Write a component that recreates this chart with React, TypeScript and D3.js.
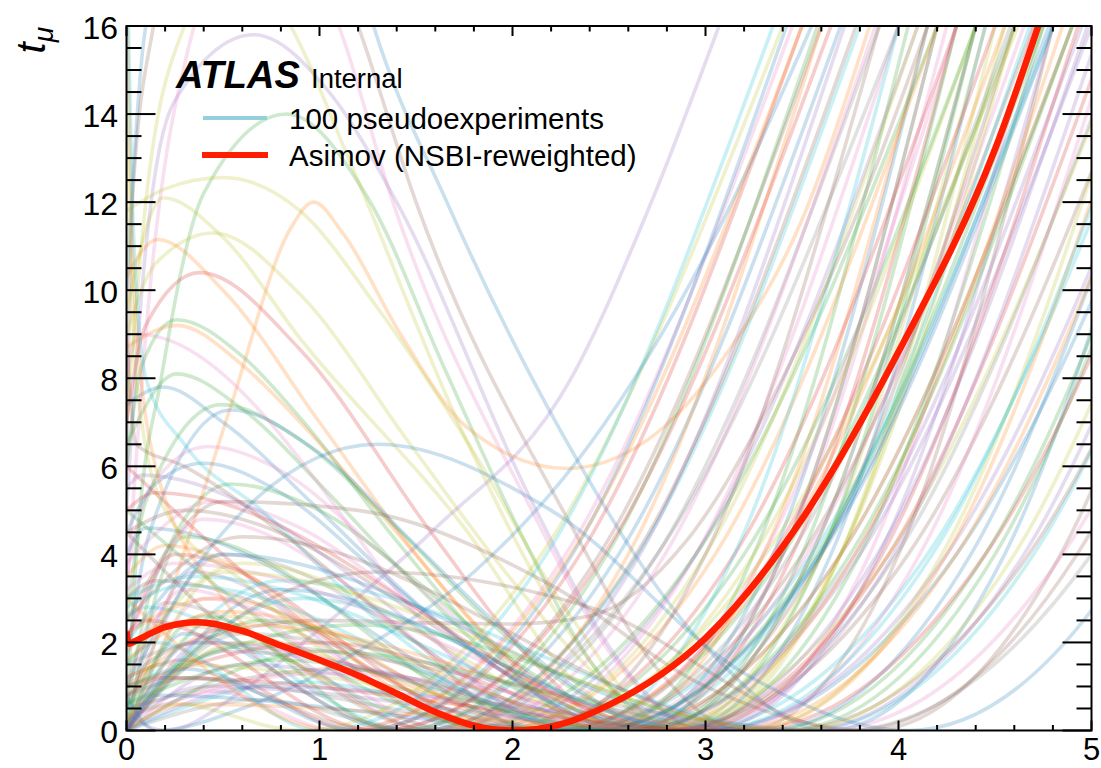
import React from "react";
import * as d3 from "d3";

// ---------- data ----------
const X_DOMAIN = [0, 5];
const Y_DOMAIN = [0, 16];
const X_MAJOR = [0, 1, 2, 3, 4, 5];
const Y_MAJOR = [0, 2, 4, 6, 8, 10, 12, 14, 16];

const TAB10 = ["#1f77b4", "#ff7f0e", "#2ca02c", "#d62728", "#9467bd", "#8c564b", "#e377c2", "#7f7f7f", "#bcbd22", "#17becf"];

// 100 pseudoexperiment curves, knots as flat [x, y, x, y, ...] lists
const PSEUDO: number[][] = [
  [0, 0.3, 0.06, 4.5, 0.18, 8, 0.4, 12.2, 0.83, 14, 1.25, 12.1, 1.65, 8.2, 2.04, 4.5, 2.45, 1.3, 2.85, 0, 3.8, 4, 4.75, 16],
  [0, 5, 0.08, 10, 0.25, 14.3, 0.66, 15.8, 1.05, 14.5, 1.4, 12, 2.1, 5.2, 2.55, 1.6, 3, 0, 3.9, 4, 4.8, 16],
  [0, 3, 0.1, 9, 0.35, 16, 0.7, 19, 1.1, 16, 1.38, 12, 2.1, 5, 2.55, 1.5, 3, 0, 3.85, 4, 4.7, 16],
  [0, 6, 0.03, 12, 0.14, 16, 0.6, 22, 1.2, 16, 1.5, 12, 2.28, 4.85, 2.75, 1.4, 3.2, 0, 4, 4, 4.8, 16],
  [0, 10, 0.1, 16, 0.8, 25, 1.28, 16, 1.66, 12, 2.25, 6.8, 3, 1.9, 3.63, 0, 4.55, 4, 5.47, 16],
  [0, 7, 0.1, 12, 0.3, 16, 0.55, 17.5, 0.85, 16, 1.15, 13, 1.76, 6.6, 2.3, 2.2, 2.8, 0, 3.7, 4, 4.6, 16],
  [0, 0, 0.2, 2.7, 0.55, 7.5, 0.85, 11.4, 0.97, 12, 1.12, 11.3, 1.42, 9, 1.76, 6.9, 2.28, 5.95, 2.7, 6.6, 3.1, 8.5, 3.5, 11.6, 3.85, 16],
  [0, 9.5, 0.19, 12.1, 0.5, 11.2, 0.9, 8.9, 1.76, 4.55, 2.3, 1.2, 2.75, 0, 3.6, 4, 4.45, 16],
  [0, 11.8, 0.2, 12.3, 0.5, 12.56, 0.9, 11.8, 1.3, 9.6, 1.76, 6.6, 2.3, 2.6, 2.85, 0, 3.7, 4, 4.55, 16],
  [0, 9, 0.15, 10.6, 0.45, 11.3, 0.9, 9.9, 1.47, 6.5, 2, 3.4, 2.5, 1, 2.9, 0, 3.7, 4, 4.5, 16],
  [0, 10.3, 0.16, 11.15, 0.5, 10, 1, 7, 1.5, 4, 2, 1.5, 2.45, 0, 3.3, 4, 4.15, 16],
  [0, 7, 0.1, 9.2, 0.38, 10.4, 0.9, 8.65, 1.57, 4.55, 2.1, 1.6, 2.6, 0, 3.45, 4, 4.3, 16],
  [0, 6, 0.08, 8.3, 0.26, 9.33, 0.6, 8.5, 0.9, 7.1, 1.4, 4.3, 1.9, 1.8, 2.45, 0, 3.25, 4, 4.05, 16],
  [0, 8.7, 0.26, 9.2, 0.6, 8.3, 0.9, 7, 1.4, 4.5, 1.9, 2, 2.35, 0.4, 2.6, 0, 3.4, 4, 4.2, 16],
  [0, 6.5, 0.26, 8.1, 0.6, 7.3, 1, 5.6, 1.5, 3.3, 2, 1.3, 2.5, 0.2, 2.7, 0, 3.5, 4, 4.3, 16],
  [0, 7.4, 0.19, 7.8, 0.5, 7, 1, 5, 1.5, 2.9, 2, 1.2, 2.4, 0.2, 2.6, 0, 3.4, 4, 4.2, 16],
  [0, 2.5, 0.1, 5.2, 0.49, 7.4, 0.9, 6.6, 1.4, 4.6, 1.9, 2.4, 2.4, 0.7, 2.8, 0, 3.6, 4, 4.4, 16],
  [0, 1.5, 0.12, 4.5, 0.54, 7.28, 1, 6.3, 1.5, 4.2, 2, 2.1, 2.5, 0.5, 2.85, 0, 3.65, 4, 4.45, 16],
  [0, 3.5, 0.12, 5.5, 0.42, 6.45, 0.8, 5.9, 1.3, 4.1, 1.8, 2.2, 2.3, 0.7, 2.7, 0, 3.55, 4, 4.4, 16],
  [0, 4.5, 0.15, 5.6, 0.4, 6.07, 0.8, 5.4, 1.3, 3.6, 1.8, 1.8, 2.3, 0.4, 2.55, 0, 3.35, 4, 4.15, 16],
  [0, 0.5, 0.15, 3.5, 0.54, 5.6, 1, 5, 1.5, 3.4, 2, 1.6, 2.5, 0.3, 2.7, 0, 3.55, 4, 4.4, 16],
  [0, 3.8, 0.45, 5.2, 0.9, 4.6, 1.4, 3.1, 1.9, 1.5, 2.3, 0.4, 2.55, 0, 3.4, 4, 4.25, 16],
  [0, 0, 0.3, 4.4, 2.2, 0, 3.4, 4, 4.6, 16],
  [0, 2, 0.25, 4, 2, 0, 3.15, 4, 4.3, 16],
  [0, 0.5, 0.35, 3.6, 1.8, 0, 2.95, 4, 4.1, 16],
  [0, 3, 0.15, 3.4, 2.3, 0, 3.5, 4, 4.7, 16],
  [0, 0, 0.4, 3, 1.9, 0, 2.95, 4, 4, 16],
  [0, 1, 0.2, 2.9, 1.6, 0, 2.75, 4, 3.9, 16],
  [0, 0.2, 0.5, 2.6, 2.1, 0, 3.25, 4, 4.4, 16],
  [0, 2.6, 0.1, 2.8, 1.5, 0, 2.65, 4, 3.8, 16],
  [0, 0, 0.3, 2.2, 1.4, 0, 2.55, 4, 3.7, 16],
  [0, 1.8, 0.2, 2.4, 2.5, 0, 3.7, 4, 4.9, 16],
  [0, 0, 0.55, 1.9, 1.7, 0, 2.95, 4, 4.2, 16],
  [0, 1.2, 0.3, 1.6, 1.2, 0, 2.35, 4, 3.5, 16],
  [0, 0, 0.6, 1.5, 2.6, 0, 3.8, 4, 5, 16],
  [0, 0.8, 0.35, 1.2, 1.3, 0, 2.45, 4, 3.6, 16],
  [0, 0, 0.45, 0.9, 1.1, 0, 2.275, 4, 3.45, 16],
  [0, 0, 0.7, 0.7, 1.5, 0, 2.75, 4, 4, 16],
  [0, 0.3, 0.25, 0.6, 0.9, 0, 2.15, 4, 3.4, 16],
  [0, 0, 0.9, 1.1, 2.3, 0, 3.55, 4, 4.8, 16],
  [0, 4, 0.1, 4.6, 2.4, 0, 3.6, 4, 4.8, 16],
  [0, 3.5, 0.2, 4.2, 1.9, 0, 3.05, 4, 4.2, 16],
  [0, 5, 2, 0, 3.2, 4, 4.4, 16],
  [0, 6, 2.2, 0, 3.35, 4, 4.5, 16],
  [0, 5.5, 0.08, 5.8, 2.6, 0, 3.775, 4, 4.95, 16],
  [0, 4.5, 0.3, 5, 2.8, 0, 4.05, 4, 5.3, 16],
  [0, 2, 0.4, 4.8, 2.4, 0, 3.525, 4, 4.65, 16],
  [0, 0.5, 0.5, 4, 2.5, 0, 3.7, 4, 4.9, 16],
  [0, 1.5, 0.6, 3.8, 2.7, 0, 3.95, 4, 5.2, 16],
  [0, 3, 0.35, 3.5, 2.9, 0, 4.15, 4, 5.4, 16],
  [0, 0, 0.8, 3.2, 3, 0, 4.3, 4, 5.6, 16],
  [0, 2.2, 0.45, 3, 2.2, 0, 3.375, 4, 4.55, 16],
  [0, 0.2, 0.7, 2.5, 2.4, 0, 3.575, 4, 4.75, 16],
  [0, 1, 1, 2, 2.8, 0, 3.95, 4, 5.1, 16],
  [0, 0, 0.5, 1.8, 3, 0, 4.25, 4, 5.5, 16],
  [0, 0.5, 1.1, 1.4, 2.6, 0, 3.6, 4, 4.6, 16],
  [0, 8, 0.06, 9, 2.3, 0, 3.3, 4, 4.3, 16],
  [0, 17, 0.04, 10, 0.15, 6, 0.5, 3, 1, 1.2, 1.6, 0, 2.6, 4, 3.6, 16],
  [0, 14, 0.05, 8, 0.2, 5, 0.6, 3.4, 1.2, 1.2, 1.9, 0, 3, 4, 4.1, 16],
  [0, 18, 0.03, 12, 0.1, 8, 0.3, 6.5, 0.7, 5, 1.3, 2.5, 2, 0.5, 2.3, 0, 3.15, 4, 4, 16],
  [0, 9, 0.05, 6.5, 0.3, 6, 0.8, 4.5, 1.5, 2, 2.1, 0, 3, 4, 3.9, 16],
  [0, 0, 0.1, 1.5, 0.5, 2.2, 1, 2.5, 1.5, 2.45, 2, 2.42, 2.4, 2.6, 2.9, 4.3, 3.4, 8, 3.9, 13, 4.15, 16],
  [0, 0.4, 0.2, 0, 0.6, 0.9, 1, 2.3, 1.59, 4.55, 2.3, 7.97, 2.71, 11.9, 3.07, 16],
  [0, 0.8, 0.15, 0, 0.6, 0.5, 1.2, 1.8, 1.8, 3.6, 2.4, 6.5, 3, 10.8, 3.55, 16],
  [0, 1, 0.6, 2.4, 3.2, 0, 4.25, 4, 5.3, 16],
  [0, 0, 1, 1.8, 3.3, 0, 4.45, 4, 5.6, 16],
  [0, 0.5, 0.8, 3.4, 3.5, 0, 4.7, 4, 5.9, 16],
  [0, 2.5, 0.5, 5.2, 1.2, 5, 2.2, 3.3, 3, 1, 3.85, 0, 4.84, 4, 5.83, 16],
  [0, 1, 0.5, 4.5, 1.3, 6.5, 2.2, 5, 3.2, 1.3, 4.05, 0, 5.2, 4, 6.33, 16],
  [0, 0, 0.4, 2, 1.3, 3.6, 2.4, 2.8, 3.75, 0, 4.925, 4, 6.1, 16],
  [0, 0.2, 0.4, 1, 2.9, 0, 3.975, 4, 5.05, 16],
  [0, 3.2, 0.25, 3.8, 3.1, 0, 4.11, 4, 5.12, 16],
  [0, 0, 0.6, 2.2, 2.8, 0, 3.99, 4, 5.18, 16],
  [0, 1.2, 0.2, 1.5, 3.2, 0, 4.225, 4, 5.25, 16],
  [0, 0.4, 0.9, 3, 3, 0, 4.175, 4, 5.35, 16],
  [0, 2, 0.5, 4, 3.3, 0, 4.375, 4, 5.45, 16],
  [0, 0, 0.3, 0.6, 3.1, 0, 4.3, 4, 5.5, 16],
  [0, 1, 1.2, 2.4, 3.4, 0, 4.5, 4, 5.6, 16],
  [0, 0.8, 0.2, 1.2, 3.2, 0, 4.45, 4, 5.7, 16],
  [0, 0, 0.7, 1, 3.5, 0, 4.65, 4, 5.8, 16],
  [0, 2.5, 0.6, 4.4, 3.4, 0, 4.675, 4, 5.95, 16],
  [0, 0.3, 1, 1.3, 3.6, 0, 4.85, 4, 6.1, 16],
  [0, 1.5, 0.4, 2, 3.7, 0, 5, 4, 6.3, 16],
  [0, 0, 0.5, 3.6, 3.45, 0, 4.6, 4, 5.75, 16],
  [0, 1.5, 0.15, 2, 1, 0, 2.175, 4, 3.35, 16],
  [0, 0, 0.3, 1.4, 1.2, 0, 2.31, 4, 3.42, 16],
  [0, 3, 1.1, 0, 2.3, 4, 3.5, 16],
  [0, 0.5, 0.4, 2.6, 1.4, 0, 2.49, 4, 3.58, 16],
  [0, 2.2, 0.1, 2.5, 1.3, 0, 2.475, 4, 3.65, 16],
  [0, 0, 0.5, 2.3, 1.6, 0, 2.66, 4, 3.72, 16],
  [0, 4.5, 1.5, 0, 2.64, 4, 3.78, 16],
  [0, 1, 0.3, 3.2, 1.7, 0, 2.79, 4, 3.88, 16],
  [0, 0, 0.2, 1.2, 2.3, 0, 3.44, 4, 4.58, 16],
  [0, 0.3, 0.6, 2, 2, 0, 3.31, 4, 4.62, 16],
  [0, 2.8, 0.3, 3.3, 2.5, 0, 3.59, 4, 4.68, 16],
  [0, 0, 0.15, 0.8, 2.4, 0, 3.59, 4, 4.78, 16],
  [0, 1.6, 0.5, 2.7, 2.7, 0, 3.775, 4, 4.85, 16],
  [0, 0.6, 0.8, 1.6, 2.6, 0, 3.75, 4, 4.9, 16],
  [0, 5, 0.15, 5.4, 2.9, 0, 3.915, 4, 4.93, 16],
  [0, 0, 0.35, 2, 2.8, 0, 3.89, 4, 4.98, 16],
];

const PSEUDO_COLOR = [
  2, 4, 6, 5, 0, 8, 1, 8, 8, 8,
  1, 3, 2, 1, 2, 0, 2, 0, 6, 0,
  2, 6, 2, 3, 4, 5, 6, 7, 8, 9,
  0, 1, 2, 3, 4, 5, 6, 7, 8, 9,
  0, 1, 2, 3, 4, 5, 6, 7, 8, 9,
  0, 1, 2, 3, 4, 5, 6, 1, 8, 9,
  5, 5, 4, 0, 1, 2, 9, 5, 0, 5,
  4, 6, 7, 8, 9, 0, 1, 2, 3, 4,
  5, 6, 7, 8, 9, 0, 1, 2, 3, 4,
  5, 6, 7, 8, 9, 0, 1, 2, 3, 4,
];

// Asimov curve knots
const ASIMOV_X = [0, 0.012, 0.04, 0.1, 0.2, 0.37, 0.6, 0.8, 1.0, 1.2, 1.4, 1.6, 1.8, 2.0, 2.25, 2.5, 3.0, 3.5, 4.0, 4.5, 4.8];
const ASIMOV_Y = [2.25, 1.97, 2.02, 2.15, 2.35, 2.46, 2.26, 1.93, 1.6, 1.25, 0.84, 0.42, 0.11, 0, 0.14, 0.58, 2.1, 4.8, 8.6, 13.2, 17];

const LEGEND_LABELS = ["100 pseudoexperiments", "Asimov (NSBI-reweighted)"];

// ---------- layout ----------
const W = 1101;
const H = 768;
const L = 126.5, R = 1091.5, T = 26, B = 730.5;
const FONT = "'Liberation Sans', Arial, Helvetica, sans-serif";

export default function App() {
  const x = d3.scaleLinear().domain(X_DOMAIN).range([L, R]);
  const y = d3.scaleLinear().domain(Y_DOMAIN).range([B, T]);
  const line = d3
    .line<[number, number]>()
    .x((d) => x(d[0]))
    .y((d) => y(d[1]))
    .curve(d3.curveMonotoneX);

  const toPairs = (flat: number[]) => {
    const out: [number, number][] = [];
    for (let i = 0; i < flat.length; i += 2) out.push([flat[i], flat[i + 1]]);
    return out;
  };

  const xMinor = d3.range(0, 5.0001, 0.2).filter((v) => Math.abs(v - Math.round(v)) > 1e-6);
  const yMinor = d3.range(0, 16.0001, 0.5).filter((v) => Math.abs(v / 2 - Math.round(v / 2)) > 1e-6);

  const asimov = ASIMOV_X.map((v, i) => [v, ASIMOV_Y[i]] as [number, number]);

  return (
    <svg
      width={W}
      height={H}
      style={{ position: "absolute", left: 0, top: 0, background: "#fff" }}
      fontFamily={FONT}
    >
      <defs>
        <clipPath id="plotclip">
          <rect x={L} y={T} width={R - L} height={B - T} />
        </clipPath>
      </defs>
      <rect x={0} y={0} width={W} height={H} fill="#fff" />
      <g clipPath="url(#plotclip)">
        {PSEUDO.map((c, i) => (
          <path
            key={i}
            d={line(toPairs(c)) || ""}
            fill="none"
            stroke={TAB10[PSEUDO_COLOR[i]]}
            strokeOpacity={0.23}
            strokeWidth={3.6}
          />
        ))}
        <path d={line(asimov) || ""} fill="none" stroke="#ff1f00" strokeWidth={6.5} strokeLinejoin="round" />
      </g>

      {/* frame */}
      <rect x={L} y={T} width={R - L} height={B - T} fill="none" stroke="#000" strokeWidth={2} />

      {/* x ticks */}
      {X_MAJOR.map((v) => (
        <g key={"xm" + v}>
          <line x1={x(v)} x2={x(v)} y1={B} y2={B - 10} stroke="#000" strokeWidth={2} />
          <line x1={x(v)} x2={x(v)} y1={T} y2={T + 10} stroke="#000" strokeWidth={2} />
          <text x={x(v)} y={760} textAnchor="middle" fontSize={31} fill="#000">
            {v}
          </text>
        </g>
      ))}
      {xMinor.map((v) => (
        <g key={"xn" + v}>
          <line x1={x(v)} x2={x(v)} y1={B} y2={B - 5.5} stroke="#000" strokeWidth={2} />
          <line x1={x(v)} x2={x(v)} y1={T} y2={T + 5.5} stroke="#000" strokeWidth={2} />
        </g>
      ))}
      {/* y ticks */}
      {Y_MAJOR.map((v) => (
        <g key={"ym" + v}>
          <line x1={L} x2={L + 29} y1={y(v)} y2={y(v)} stroke="#000" strokeWidth={2} />
          <line x1={R} x2={R - 29} y1={y(v)} y2={y(v)} stroke="#000" strokeWidth={2} />
          <text x={118} y={y(v) + 12.5} textAnchor="end" fontSize={32} fill="#000">
            {v}
          </text>
        </g>
      ))}
      {yMinor.map((v) => (
        <g key={"yn" + v}>
          <line x1={L} x2={L + 15} y1={y(v)} y2={y(v)} stroke="#000" strokeWidth={2} />
          <line x1={R} x2={R - 15} y1={y(v)} y2={y(v)} stroke="#000" strokeWidth={2} />
        </g>
      ))}

      {/* y title */}
      <text transform="translate(45,27) rotate(-90)" textAnchor="end" fontSize={40} fontStyle="italic" fill="#000">
        t
        <tspan fontSize={28} dy={8}>
          μ
        </tspan>
      </text>

      {/* ATLAS label */}
      <text x={176} y={88} fontSize={38} fontWeight="bold" fontStyle="italic" fill="#000">
        ATLAS
      </text>
      <text x={311} y={88} fontSize={27.5} fill="#000">
        Internal
      </text>

      {/* legend */}
      <line x1={203} x2={267} y1={118} y2={118} stroke="#92d0dc" strokeWidth={4} />
      <text x={289} y={128.5} fontSize={29.5} fill="#000">
        {LEGEND_LABELS[0]}
      </text>
      <line x1={202} x2={268} y1={155} y2={155} stroke="#ff1f00" strokeWidth={6} />
      <text x={289} y={165.5} fontSize={29.5} fill="#000">
        {LEGEND_LABELS[1]}
      </text>
    </svg>
  );
}
